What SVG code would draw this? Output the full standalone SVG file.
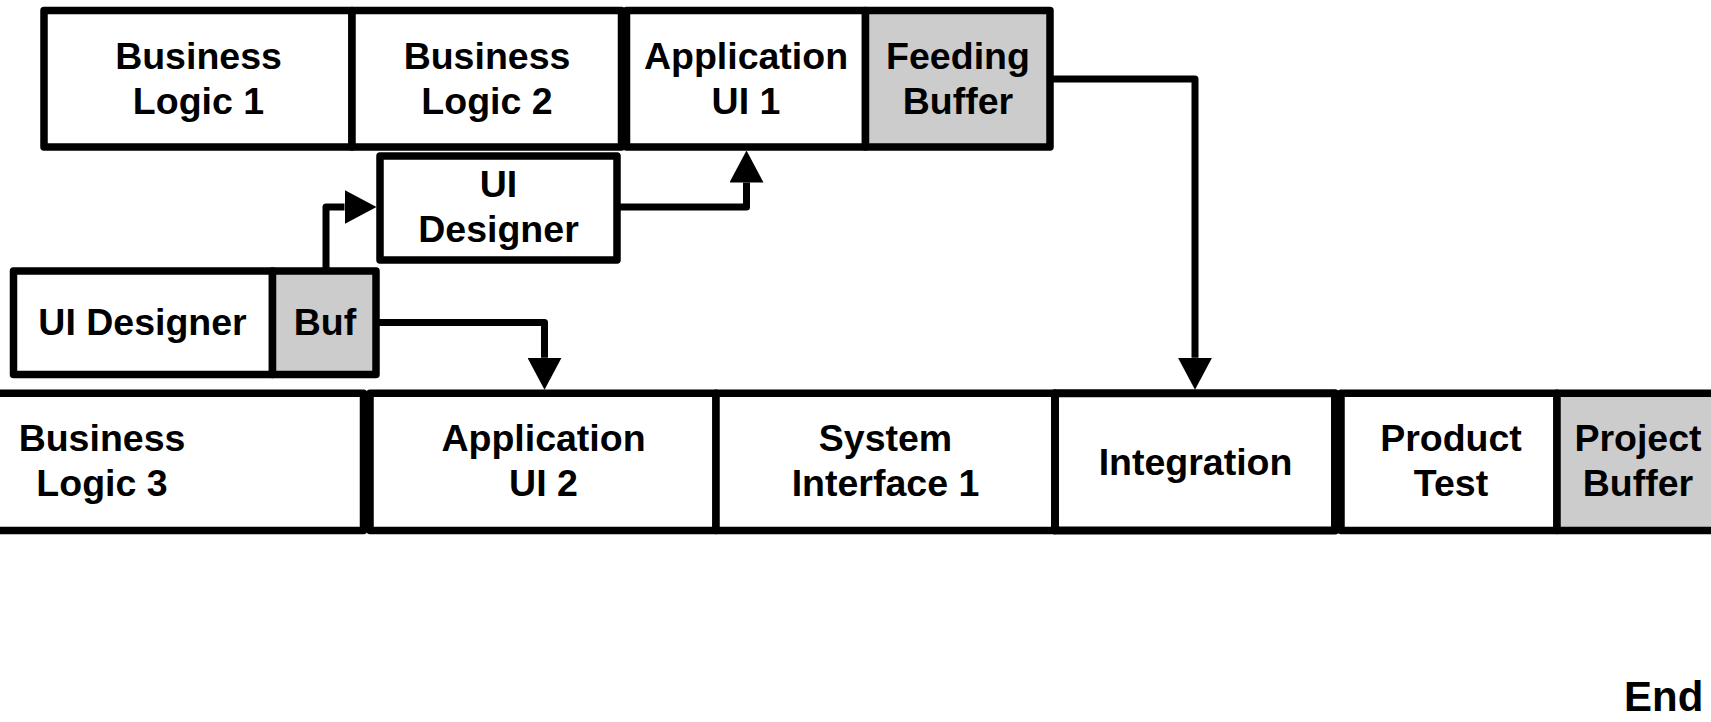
<svg xmlns="http://www.w3.org/2000/svg" width="1711" height="722" viewBox="0 0 1711 722">
  <style>
    .cell { fill: #ffffff; stroke: #000000; stroke-width: 7.5; stroke-linejoin: round; }
    .buf { fill: #cccccc; }
    .wire { fill: none; stroke: #000000; stroke-width: 7; stroke-linejoin: round; }
    .lbl { font-family: "Liberation Sans", Arial, Helvetica, sans-serif; font-weight: bold; font-size: 37.5px; text-anchor: middle; fill: #000000; }
  </style>
  <defs>
    <marker id="arrow" viewBox="0 0 32 34" refX="0" refY="17" markerWidth="32" markerHeight="34" markerUnits="userSpaceOnUse" orient="auto">
      <path d="M0,0 L32,17 L0,34 Z" fill="#000000"/>
    </marker>
  </defs>
  <rect width="1711" height="722" fill="#ffffff"/>

  <!-- top chain -->
  <g id="business-logic-1">
    <rect class="cell" x="44" y="10.5" width="308" height="136.5"/>
    <text class="lbl" x="198.5" y="68.5">Business<tspan x="198.5" y="113.5">Logic 1</tspan></text>
  </g>
  <g id="business-logic-2">
    <rect class="cell" x="352" y="10.5" width="269.5" height="136.5"/>
    <text class="lbl" x="487" y="68.5">Business<tspan x="487" y="113.5">Logic 2</tspan></text>
  </g>
  <g id="application-ui-1">
    <rect class="cell" x="626.5" y="10.5" width="239" height="136.5"/>
    <text class="lbl" x="746" y="68.5">Application<tspan x="746" y="113.5">UI 1</tspan></text>
  </g>
  <g id="feeding-buffer">
    <rect class="cell buf" x="865.5" y="10.5" width="184.5" height="136.5"/>
    <text class="lbl" x="958" y="68.5">Feeding<tspan x="958" y="113.5">Buffer</tspan></text>
  </g>

  <!-- feeder tasks -->
  <g id="ui-designer-task">
    <rect class="cell" x="380" y="156" width="237" height="104"/>
    <text class="lbl" x="498.5" y="196.5">UI<tspan x="498.5" y="241.5">Designer</tspan></text>
  </g>
  <g id="ui-designer-resource">
    <rect class="cell" x="13.5" y="271" width="259" height="103.5"/>
    <text class="lbl" x="142.5" y="335">UI Designer</text>
  </g>
  <g id="buf">
    <rect class="cell buf" x="272.5" y="271" width="103.5" height="103.5"/>
    <text class="lbl" x="325" y="335">Buf</text>
  </g>

  <!-- critical chain -->
  <g id="business-logic-3">
    <rect class="cell" x="-160" y="393.3" width="523.5" height="137.2"/>
    <text class="lbl" x="102" y="451">Business<tspan x="102" y="496">Logic 3</tspan></text>
  </g>
  <g id="application-ui-2">
    <rect class="cell" x="370" y="393.3" width="346" height="137.2"/>
    <text class="lbl" x="543.5" y="451">Application<tspan x="543.5" y="496">UI 2</tspan></text>
  </g>
  <g id="system-interface-1">
    <rect class="cell" x="716" y="393.3" width="339" height="137.2"/>
    <text class="lbl" x="885.5" y="451">System<tspan x="885.5" y="496">Interface 1</tspan></text>
  </g>
  <g id="integration">
    <rect class="cell" x="1055" y="393.3" width="280" height="137.2" style="stroke-width:8"/>
    <text class="lbl" x="1195.5" y="474.5">Integration</text>
  </g>
  <g id="product-test">
    <rect class="cell" x="1341" y="393.3" width="216" height="137.2"/>
    <text class="lbl" x="1451" y="451">Product<tspan x="1451" y="496">Test</tspan></text>
  </g>
  <g id="project-buffer">
    <rect class="cell buf" x="1557" y="393.3" width="170" height="137.2"/>
    <text class="lbl" x="1638" y="451">Project<tspan x="1638" y="496">Buffer</tspan></text>
  </g>

  <g id="end-label">
    <text class="lbl" style="text-anchor:start; font-size:42px" x="1624" y="711">End</text>
  </g>

  <!-- dependency links -->
  <g id="connectors">
    <path class="wire" d="M326,271 V207 H344.5" marker-end="url(#arrow)"/>
    <path class="wire" d="M617,207 H746.5 V182.5" marker-end="url(#arrow)"/>
    <path class="wire" d="M376,322.5 H544.5 V357.8" marker-end="url(#arrow)"/>
    <path class="wire" d="M1050,79 H1195 V357.8" marker-end="url(#arrow)"/>
  </g>
</svg>
